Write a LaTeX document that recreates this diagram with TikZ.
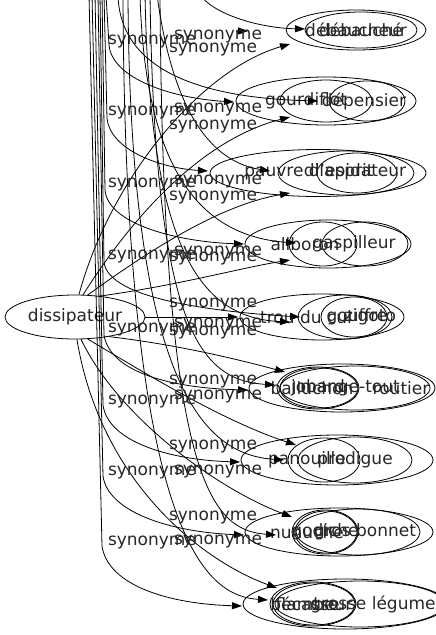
\documentclass[tikz,border=0pt]{standalone}
\usepackage{fontspec}
\setmainfont{DejaVu Sans}
\usetikzlibrary{shapes.geometric,arrows.meta}
\begin{document}
\begin{tikzpicture}[x=1pt,y=-1pt,
  ell/.style 2 args={ellipse,draw,line width=0.8pt,minimum width=#1pt,minimum height=#2pt,inner sep=0pt},
  wd/.style={font=\fontsize{17}{19}\selectfont,inner sep=0pt,text=black!85},
  syn/.style={font=\fontsize{17}{19}\selectfont,inner sep=0pt,text=black!85},
  arr/.style={draw,line width=0.8pt,-{Triangle[length=10pt,width=7pt]}}]
\useasboundingbox (0,0) rectangle (436,635);
% source
\node[ell={140}{44},wd] (dis) at (75,317) {dissipateur};
% cluster 1
\node[ell={140}{40}] (c1a) at (356,30) {};
\node[ell={112}{36}] (c1b) at (361,30) {};
\node[wd] (t1a) at (356,30) {débaucheur};
\node[wd] (t1b) at (361,30) {débauché};
% cluster 2
\node[ell={180}{48}] (c2a) at (326,101) {};
\node[ell={92}{42}] (c2b) at (326,101) {};
\node[ell={76}{40}] (c2c) at (367,101) {};
\node[wd] (t2a) at (306,101) {gourdiflot};
\node[wd] (t2b) at (364,101) {dépensier};
% cluster 3
\node[ell={216}{47}] (c3a) at (318,173) {};
\node[ell={136}{44}] (c3b) at (346,173) {};
\node[ell={80}{40}] (c3c) at (357,173) {};
\node[wd] (t3a) at (309,172) {pauvre d'esprit};
\node[wd] (t3b) at (355,172) {dilapidateur};
% cluster 4
\node[ell={166}{48}] (c4a) at (328,244) {};
\node[ell={68}{44}] (c4b) at (323,244) {};
\node[ell={86}{44}] (c4c) at (365,244) {};
\node[wd] (t4a) at (305,244) {aliboron};
\node[wd] (t4b) at (354,244) {gaspilleur};
% cluster 5
\node[ell={164}{46}] (c5a) at (322,317) {};
\node[ell={94}{44}] (c5b) at (345,317) {};
\node[ell={66}{40}] (c5c) at (354,317) {};
\node[wd] (t5a) at (306,317) {trou du cul};
\node[wd] (t5b) at (357,317) {gouffre};
\node[wd] (t5c) at (370,317) {zigoto};
% cluster 6
\node[ell={186}{48}] (c6a) at (342,388) {};
\node[ell={150}{44}] (c6b) at (355,388) {};
\node[ell={82}{42}] (c6c) at (318,388) {};
\node[ell={78}{40}] (c6d) at (319,388) {};
\node[wd] (t6a) at (312,388) {balluchon};
\node[wd] (t6b) at (318,388) {jobard};
\node[wd] (t6c) at (350,388) {mange-tout};
\node[wd] (t6d) at (401,388) {routier};
% cluster 7
\node[ell={192}{50}] (c7a) at (337,460) {};
\node[ell={72}{44}] (c7b) at (324,460) {};
\node[ell={114}{46}] (c7c) at (355,460) {};
\node[wd] (t7a) at (307,460) {panouille};
\node[wd] (t7b) at (355,460) {prodigue};
% cluster 8
\node[ell={188}{48}] (c8a) at (339,532) {};
\node[ell={66}{44}] (c8b) at (325,532) {};
\node[ell={62}{42}] (c8c) at (326,532) {};
\node[ell={124}{46}] (c8d) at (358,532) {};
\node[wd] (t8a) at (307,532) {nunuche};
\node[wd] (t8b) at (325,532) {godiche};
\node[wd] (t8c) at (365,532) {gros bonnet};
% cluster 9
\node[ell={204}{50}] (c9a) at (345,604) {};
\node[ell={86}{44}] (c9b) at (313,604) {};
\node[ell={82}{42}] (c9c) at (314,604) {};
\node[ell={170}{46}] (c9d) at (360,604) {};
\node[wd] (t9a) at (305,604) {bécasse};
\node[wd] (t9b) at (314,604) {flambeur};
\node[wd] (t9c) at (373,604) {grosse légume};
% free ends at the top
\coordinate (u0) at (200,-5);
\coordinate (u2) at (106,-5);
\coordinate (u3) at (104,-5);
\coordinate (u4) at (102,-5);
\coordinate (u5) at (100,-5);
\coordinate (u6) at (98,-5);
\coordinate (u7) at (95,-5);
\coordinate (u8) at (92,-5);
\coordinate (u9) at (89,-5);
\coordinate (v1) at (236,31);
\coordinate (v2) at (118,-5);
\coordinate (v3) at (157,-5);
\coordinate (v4) at (140,-5);
\coordinate (v5) at (145,-5);
\coordinate (v6) at (150,-5);
\coordinate (v7) at (128,-5);
\coordinate (v8) at (160,-5);
\coordinate (v9) at (123,-5);
% arrow tips
\coordinate (a1) at (305,29);
\coordinate (b1) at (290,44);
\coordinate (m1) at (248,31);
\coordinate (a2) at (234,102);
\coordinate (b2) at (290,117);
\coordinate (m2) at (318,101);
\coordinate (a3) at (208,171);
\coordinate (b3) at (290,193);
\coordinate (m3) at (270,171);
\coordinate (a4) at (244,244);
\coordinate (b4) at (290,260);
\coordinate (m4) at (296,243);
\coordinate (a5) at (300,317);
\coordinate (b5) at (238,317);
\coordinate (m5) at (290,322);
\coordinate (a6) at (248,390);
\coordinate (b6) at (285,372);
\coordinate (m6) at (275,385);
\coordinate (a7) at (240,462);
\coordinate (b7) at (296,445);
\coordinate (m7) at (284,460);
\coordinate (a8) at (244,535);
\coordinate (b8) at (292,517);
\coordinate (m8) at (276,535);
\coordinate (a9) at (242,606);
\coordinate (b9) at (277,588);
\coordinate (m9) at (268,600);
% edges from the top, left bundle
\draw[arr] (u0) .. controls (215,15) and (260,28) .. (a1);
\draw[arr] (u2) -- (109,45) .. controls (112,78) and (170,98) .. (a2);
\draw[arr] (u3) -- (107,118) .. controls (110,150) and (160,168) .. (a3);
\draw[arr] (u4) -- (105,190) .. controls (108,225) and (180,242) .. (a4);
\draw[arr] (u5) -- (104,262) .. controls (108,300) and (220,312) .. (a5);
\draw[arr] (u6) -- (104,335) .. controls (110,372) and (170,388) .. (a6);
\draw[arr] (u7) -- (103,405) .. controls (108,442) and (170,460) .. (a7);
\draw[arr] (u8) -- (103,476) .. controls (108,512) and (170,532) .. (a8);
\draw[arr] (u9) -- (102,546) .. controls (108,586) and (170,604) .. (a9);
% edges from the top, right bundle
\draw[arr] (v1) -- (m1);
\draw[arr] (v2) .. controls (120,70) and (200,98) .. (m2);
\draw[arr] (v3) .. controls (170,90) and (200,160) .. (m3);
\draw[arr] (v4) .. controls (145,170) and (200,236) .. (m4);
\draw[arr] (v5) .. controls (150,250) and (200,318) .. (m5);
\draw[arr] (v6) .. controls (155,330) and (200,380) .. (m6);
\draw[arr] (v7) .. controls (130,400) and (210,455) .. (m7);
\draw[arr] (v8) .. controls (163,480) and (210,530) .. (m8);
\draw[arr] (v9) .. controls (125,550) and (210,596) .. (m9);
% edges from dissipateur
\draw[arr] (dis.80) .. controls (110,180) and (200,70) .. (b1);
\draw[arr] (dis.70) .. controls (130,220) and (200,140) .. (b2);
\draw[arr] (dis.60) .. controls (150,250) and (220,205) .. (b3);
\draw[arr] (dis.40) .. controls (180,285) and (240,268) .. (b4);
\draw[arr] (dis.east) -- (b5);
\draw[arr] (dis.-30) .. controls (180,345) and (240,360) .. (b6);
\draw[arr] (dis.-60) .. controls (140,370) and (220,420) .. (b7);
\draw[arr] (dis.-75) .. controls (120,420) and (220,490) .. (b8);
\draw[arr] (dis.-85) .. controls (100,480) and (200,560) .. (b9);
% labels
\node[syn] (s01) at (152,42) {synonyme};
\node[syn] (s02) at (218,37) {synonyme};
\node[syn] (s03) at (213,50) {synonyme};
\node[syn] (s04) at (152,113) {synonyme};
\node[syn] (s05) at (218,110) {synonyme};
\node[syn] (s06) at (213,127) {synonyme};
\node[syn] (s07) at (152,185) {synonyme};
\node[syn] (s08) at (218,182) {synonyme};
\node[syn] (s09) at (213,198) {synonyme};
\node[syn] (s10) at (152,257) {synonyme};
\node[syn] (s11) at (218,253) {synonyme};
\node[syn] (s12) at (213,259) {synonyme};
\node[syn] (s13) at (213,305) {synonyme};
\node[syn] (s14) at (152,330) {synonyme};
\node[syn] (s15) at (218,325) {synonyme};
\node[syn] (s16) at (213,333) {synonyme};
\node[syn] (s17) at (213,382) {synonyme};
\node[syn] (s18) at (152,402) {synonyme};
\node[syn] (s19) at (218,397) {synonyme};
\node[syn] (s20) at (213,447) {synonyme};
\node[syn] (s21) at (152,473) {synonyme};
\node[syn] (s22) at (218,472) {synonyme};
\node[syn] (s23) at (213,518) {synonyme};
\node[syn] (s24) at (152,543) {synonyme};
\node[syn] (s25) at (218,542) {synonyme};
\end{tikzpicture}
\end{document}
